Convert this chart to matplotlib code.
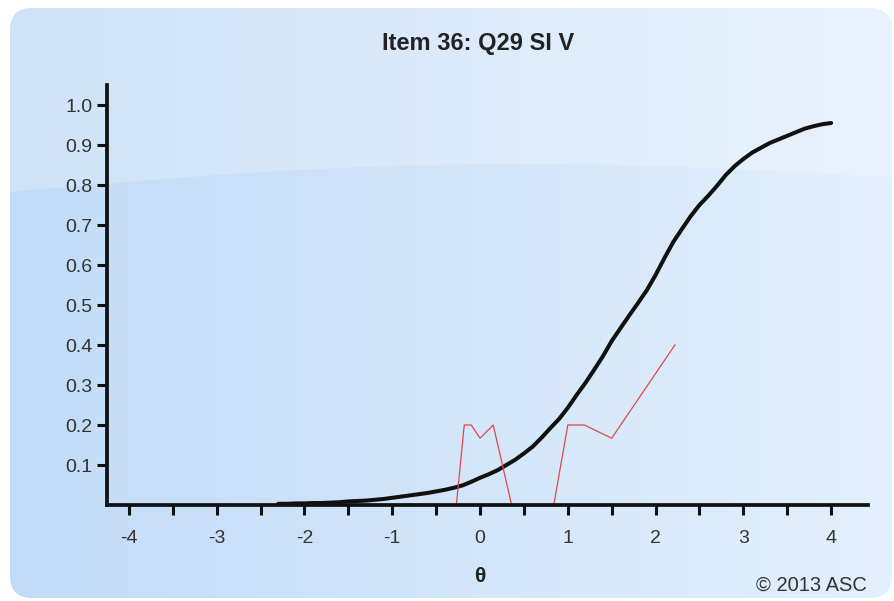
import numpy as np
import matplotlib
matplotlib.use("Agg")
import matplotlib.pyplot as plt
from matplotlib.patches import FancyBboxPatch, Polygon
from matplotlib.ticker import MultipleLocator, FuncFormatter

plt.rcParams['font.family'] = ['Liberation Sans', 'DejaVu Sans']

# Item characteristic curve (model) on the theta grid
theta = [-2.3, -2.2, -2.1, -2.0, -1.9, -1.8, -1.7, -1.6, -1.5, -1.4, -1.3, -1.2,
         -1.1, -1.0, -0.9, -0.8, -0.7, -0.6, -0.5, -0.4, -0.3, -0.2, -0.1, 0.0,
         0.1, 0.2, 0.3, 0.4, 0.5, 0.6, 0.7, 0.8, 0.9, 1.0, 1.1, 1.2, 1.3, 1.4,
         1.5, 1.6, 1.7, 1.8, 1.9, 2.0, 2.1, 2.2, 2.3, 2.4, 2.5, 2.6, 2.7, 2.8,
         2.9, 3.0, 3.1, 3.2, 3.3, 3.4, 3.5, 3.6, 3.7, 3.8, 3.9, 4.0]
p_model = [0.003, 0.003, 0.004, 0.004, 0.005, 0.005, 0.006, 0.007, 0.009, 0.010,
           0.011, 0.013, 0.015, 0.018, 0.021, 0.024, 0.027, 0.030, 0.034, 0.038,
           0.043, 0.049, 0.058, 0.068, 0.077, 0.087, 0.100, 0.113, 0.129, 0.146,
           0.168, 0.192, 0.215, 0.243, 0.275, 0.305, 0.338, 0.372, 0.410, 0.442,
           0.474, 0.505, 0.537, 0.575, 0.617, 0.657, 0.690, 0.722, 0.750, 0.773,
           0.798, 0.825, 0.847, 0.865, 0.881, 0.893, 0.905, 0.914, 0.923, 0.932,
           0.941, 0.947, 0.952, 0.955]

# Observed proportions by theta group
theta_obs = [-0.27, -0.18, -0.10, 0.00, 0.15, 0.36, 0.84, 1.00, 1.19, 1.50, 2.22]
p_obs = [0.0, 0.2, 0.2, 0.167, 0.2, 0.0, 0.0, 0.2, 0.2, 0.167, 0.4]

title = "Item 36: Q29 SI V"
x_label = "θ"
credit = "© 2013 ASC"

W, H = 894, 601
fig = plt.figure(figsize=(W / 100, H / 100), dpi=100)
fig.patch.set_facecolor('white')

# Rounded background panel with a soft horizontal gradient and a gloss band
bg = fig.add_axes([0, 0, 1, 1], zorder=-5)
bg.set_xlim(0, W)
bg.set_ylim(H, 0)
bg.axis('off')
panel = FancyBboxPatch((10, 8), W - 12, H - 11,
                       boxstyle="round,pad=0,rounding_size=22",
                       facecolor='none', edgecolor='none')
bg.add_patch(panel)
left_c = np.array([0.76, 0.86, 0.97])
right_c = np.array([0.89, 0.94, 0.99])
t = np.linspace(0, 1, 256)
grad = (left_c[None, :] * (1 - t[:, None]) + right_c[None, :] * t[:, None])
img = np.tile(grad[None, :, :], (2, 1, 1))
im = bg.imshow(img, extent=(10, W - 2, H - 3, 8), aspect='auto',
               interpolation='bilinear')
im.set_clip_path(panel)
gx = np.linspace(10, W, 60)
gy = 192 - 20 * np.sin(np.pi * (gx - 10) / (W - 10)) - 15 * (gx - 10) / (W - 10)
gloss = Polygon(np.column_stack([np.r_[gx, W, 10], np.r_[gy, 0, 0]]),
                closed=True, facecolor='white', alpha=0.22, edgecolor='none')
bg.add_patch(gloss)
gloss.set_clip_path(panel)

# Plot area
ax = fig.add_axes([107 / W, (H - 505) / H, (868 - 107) / W, (505 - 85) / H])
ax.patch.set_alpha(0)
ax.plot(theta, p_model, color='#111111', lw=2.9, solid_capstyle='round',
        zorder=2)
ax.plot(theta_obs, p_obs, color='#e04848', lw=0.9, zorder=2.2)

ax.set_xlim(-4.25, 4.42)
ax.set_ylim(0, 1.05)
for side in ('top', 'right'):
    ax.spines[side].set_visible(False)
for side in ('left', 'bottom'):
    ax.spines[side].set_linewidth(2.7)
    ax.spines[side].set_color('#111111')
    ax.spines[side].set_zorder(3)

ax.xaxis.set_major_locator(MultipleLocator(0.5))
ax.xaxis.set_major_formatter(FuncFormatter(
    lambda v, pos: f"{v:.0f}" if abs(v - round(v)) < 1e-6 else ""))
ax.set_yticks(np.round(np.arange(0.1, 1.01, 0.1), 1))
ax.yaxis.set_major_formatter(FuncFormatter(lambda v, pos: f"{v:.1f}"))
ax.tick_params(axis='both', direction='out', length=7.5, width=2.2,
               color='#111111', labelsize=14, labelcolor='#333333')
ax.tick_params(axis='x', pad=10.5)
ax.tick_params(axis='y', pad=3)

fig.text(478 / W, 1 - 50 / H, title, ha='center', va='baseline',
         fontsize=17, fontweight='bold', color='#222222')
fig.text(480 / W, 1 - 577 / H, x_label, ha='center', va='center',
         fontsize=15, fontweight='bold', color='#222222')
fig.text(867 / W, 1 - 591 / H, credit, ha='right', va='baseline',
         fontsize=14.5, color='#333333')

fig.savefig("out.png", dpi=100)
